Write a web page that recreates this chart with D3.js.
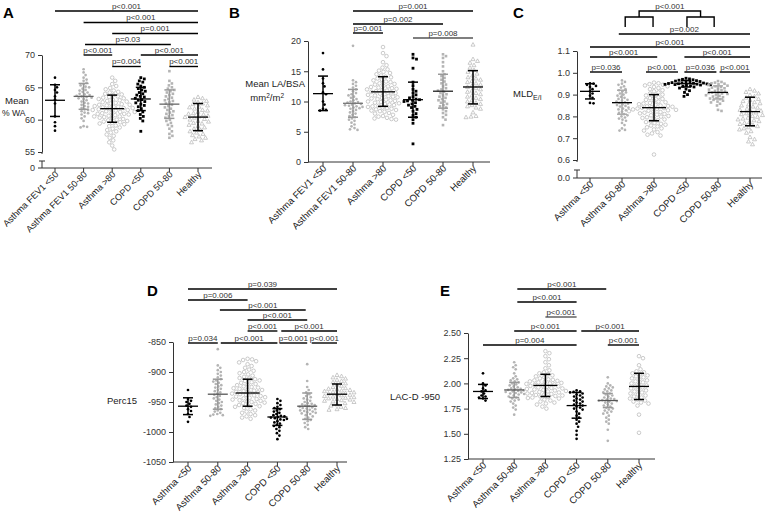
<!DOCTYPE html>
<html><head><meta charset="utf-8">
<script src="https://cdn.jsdelivr.net/npm/d3@7"></script>
<style>body{margin:0;background:#fff} text{font-family:"Liberation Sans",Arial,sans-serif;fill:#222}</style>
</head><body><svg id="c" width="767" height="519"></svg>
<script>
// ---------- categories ----------
const groupsFEV = ["Asthma FEV1 <50","Asthma FEV1 50-80","Asthma >80","COPD <50","COPD 50-80","Healthy"];
const groupsShort = ["Asthma <50","Asthma 50-80","Asthma >80","COPD <50","COPD 50-80","Healthy"];

// ---------- Panel A: Mean % WA ----------
const wallArea = [
 [66.5,65.4,65.0,64.6,64.2,63.6,63.1,62.5,60.5,59.6,59.0,58.3],
 [67.8,67.3,66.9,66.5,66.2,66.0,65.7,65.5,65.3,65.1,65.0,64.8,64.6,64.5,64.3,64.2,64.0,63.9,63.8,63.7,63.6,63.5,63.4,63.3,63.2,63.0,62.8,62.6,62.5,62.3,62.1,62.0,61.8,61.6,61.5,61.3,61.1,61.0,60.8,60.5,60.2,59.8,59.0,58.9,58.8],
 [66.5,66.0,65.5,65.2,64.9,64.7,64.5,64.3,64.2,64.0,63.9,63.8,63.6,63.5,63.4,63.3,63.2,63.1,63.0,62.9,62.8,62.7,62.6,62.5,62.4,62.3,62.3,62.2,62.1,62.0,62.0,61.9,61.8,61.8,61.7,61.6,61.5,61.5,61.4,61.3,61.2,61.2,61.1,61.0,60.9,60.9,60.8,60.7,60.6,60.5,60.5,60.4,60.3,60.2,60.1,60.0,59.9,59.8,59.7,59.6,59.5,59.4,59.3,59.1,59.0,58.8,58.6,58.4,58.2,58.0,57.7,57.5,57.2,56.8,56.5,56.0,55.4],
 [66.5,66.3,66.0,65.8,65.5,65.2,65.0,64.8,64.6,64.4,64.2,64.0,63.8,63.6,63.5,63.3,63.1,63.0,62.8,62.6,62.4,62.2,62.0,61.7,61.4,61.2,60.8,60.5,60.2,59.8,58.2],
 [67.5,66.0,65.6,65.3,65.0,64.8,64.6,64.4,64.2,64.0,63.8,63.6,63.4,63.2,63.0,62.9,62.7,62.5,62.3,62.1,61.9,61.7,61.5,61.3,61.1,60.9,60.7,60.5,60.3,60.0,59.8,59.5,59.2,59.0,58.6,58.2,57.8,57.5,57.2],
 [63.5,63.3,63.1,62.9,62.7,62.5,62.4,62.2,62.0,61.9,61.7,61.5,61.4,61.2,61.0,60.9,60.8,60.6,60.5,60.4,60.3,60.1,60.0,59.8,59.7,59.5,59.4,59.2,59.0,58.8,58.6,58.4,58.2,58.0,57.8,57.6,57.4,57.2,57.0,56.8,56.5]
];
// [mean, SD low, SD high]
const wallAreaStats = [[63.0,60.5,65.4],[63.6,61.6,65.6],[61.7,59.6,63.8],[63.2,61.4,65.0],[62.4,60.2,64.6],[60.4,58.3,62.5]];
const wallAreaP = [["p<0.001",0,5,0],["p<0.001",1,5,1],["p=0.001",2,5,2],["p=0.03",1.05,4.05,3],["p<0.001",1,2,4],["p<0.001",3,5,4],["p=0.004",2,3,5],["p<0.001",4,5,5]];

// ---------- Panel B: Mean LA/BSA ----------
const laBsa = [
 [18.0,15.3,13.8,13.0,12.5,11.5,11.2,10.0,9.5,8.8,8.6,8.5],
 [19.2,13.5,13.2,12.9,12.6,12.3,12.0,11.7,11.4,11.2,11.0,10.8,10.6,10.4,10.2,10.0,9.9,9.8,9.7,9.6,9.5,9.4,9.3,9.2,9.1,9.0,8.9,8.8,8.6,8.4,8.2,8.0,7.8,7.6,7.4,7.2,7.0,6.8,6.5,6.2,5.9,5.6,5.4,5.3],
 [19.0,18.0,17.5,16.5,16.0,15.6,15.3,15.1,14.9,14.7,14.5,14.3,14.1,14.0,13.8,13.6,13.5,13.3,13.2,13.0,12.9,12.8,12.6,12.5,12.4,12.3,12.2,12.1,12.0,11.9,11.8,11.7,11.6,11.5,11.4,11.3,11.2,11.1,11.0,10.9,10.8,10.7,10.6,10.5,10.4,10.3,10.2,10.1,10.0,9.9,9.8,9.7,9.6,9.5,9.4,9.3,9.2,9.1,9.0,8.9,8.8,8.7,8.6,8.5,8.4,8.3,8.1,8.0,7.8,7.6,7.5,7.3,7.2,7.1,7.0],
 [17.8,17.2,17.0,15.5,13.2,12.6,12.0,11.7,11.4,11.1,10.8,10.6,10.4,10.3,10.2,10.1,10.0,9.8,9.6,9.4,9.2,9.0,8.7,8.4,8.0,7.7,7.4,7.0,6.4,3.0],
 [17.8,17.5,17.2,16.5,15.8,15.0,14.5,14.2,13.9,13.6,13.3,13.0,12.8,12.5,12.2,12.0,11.8,11.6,11.4,11.2,11.0,10.8,10.6,10.4,10.2,10.0,9.8,9.6,9.4,9.2,9.0,8.7,8.4,8.1,7.8,7.4,7.0,6.1],
 [19.4,17.0,16.7,16.4,16.0,15.6,15.2,14.9,14.6,14.3,14.0,13.8,13.6,13.4,13.2,13.0,12.8,12.6,12.4,12.2,12.0,11.8,11.6,11.4,11.2,11.0,10.8,10.6,10.4,10.2,10.0,9.8,9.6,9.4,9.2,9.0,8.8,8.2,7.6,7.5,7.4]
];
const laBsaStats = [[11.3,8.5,14.2],[9.7,7.4,12.0],[11.6,9.2,14.1],[10.3,7.4,13.2],[11.7,8.9,14.5],[12.4,9.6,15.1]];
const laBsaP = [["p=0.001",1,5,0],["p=0.002",1,4,1],["p=0.001",1,2,2],["p=0.008",3,5,3]];

// ---------- Panel C: MLD E/I ----------
const mld = [
 [0.952,0.950,0.945,0.940,0.935,0.925,0.915,0.905,0.895,0.885,0.862,0.860],
 [0.965,0.958,0.950,0.945,0.938,0.932,0.925,0.920,0.915,0.910,0.905,0.900,0.895,0.890,0.885,0.880,0.876,0.872,0.868,0.865,0.862,0.858,0.855,0.852,0.848,0.845,0.840,0.836,0.832,0.828,0.822,0.816,0.810,0.805,0.800,0.795,0.790,0.785,0.780,0.770,0.760,0.745,0.738,0.735],
 [0.955,0.952,0.948,0.945,0.942,0.938,0.935,0.930,0.925,0.920,0.915,0.910,0.905,0.900,0.896,0.892,0.888,0.884,0.880,0.876,0.872,0.868,0.865,0.862,0.859,0.856,0.853,0.850,0.848,0.846,0.844,0.842,0.840,0.838,0.836,0.834,0.832,0.830,0.828,0.826,0.824,0.822,0.820,0.817,0.814,0.811,0.808,0.805,0.802,0.799,0.796,0.793,0.790,0.786,0.782,0.778,0.774,0.770,0.766,0.762,0.758,0.754,0.750,0.745,0.740,0.735,0.728,0.722,0.716,0.712,0.625],
 [0.975,0.972,0.970,0.968,0.966,0.964,0.962,0.960,0.958,0.956,0.955,0.954,0.953,0.952,0.951,0.950,0.949,0.948,0.947,0.946,0.945,0.944,0.942,0.940,0.938,0.935,0.930,0.925,0.918,0.910,0.900,0.892],
 [0.962,0.958,0.955,0.952,0.950,0.947,0.944,0.941,0.938,0.935,0.932,0.929,0.926,0.923,0.920,0.917,0.914,0.911,0.909,0.907,0.905,0.903,0.900,0.897,0.894,0.891,0.888,0.885,0.882,0.879,0.876,0.872,0.868,0.864,0.858,0.850,0.830,0.825],
 [0.925,0.918,0.912,0.905,0.898,0.892,0.886,0.880,0.875,0.870,0.865,0.860,0.855,0.850,0.845,0.840,0.835,0.830,0.826,0.822,0.818,0.814,0.810,0.806,0.802,0.798,0.794,0.790,0.786,0.782,0.778,0.774,0.770,0.765,0.760,0.755,0.750,0.745,0.740,0.732,0.725,0.705,0.695,0.685,0.672]
];
const mldStats = [[0.915,0.880,0.950],[0.863,0.810,0.920],[0.840,0.780,0.900],[0.950,0.935,0.965],[0.910,0.880,0.940],[0.822,0.757,0.888]];
const mldP = [["p=0.002",0.9,5,0],["p<0.001",0,5,1],["p<0.001",0,2.1,2],["p<0.001",2.95,5,2],["p=0.036",0,1,3],["p<0.001",1.75,2.75,3],["p=0.036",2.95,3.95,3],["p<0.001",4.05,5,3]];
const mldTreeP = "p<0.001";

// ---------- Panel D: Perc15 ----------
const perc15 = [
 [-930,-945,-948,-950,-953,-956,-958,-962,-965,-970,-975,-983],
 [-862,-889,-893,-897,-900,-903,-906,-909,-912,-914,-916,-918,-920,-922,-924,-926,-928,-930,-932,-934,-936,-938,-940,-942,-944,-946,-948,-950,-952,-954,-956,-958,-960,-962,-964,-966,-968,-970,-971,-972,-973],
 [-878,-879,-880,-882,-884,-887,-890,-893,-896,-898,-900,-902,-904,-906,-908,-910,-911,-912,-914,-915,-917,-918,-920,-921,-922,-924,-925,-926,-927,-928,-929,-930,-931,-932,-933,-934,-935,-936,-937,-938,-939,-940,-941,-942,-943,-944,-945,-946,-947,-948,-949,-950,-951,-952,-953,-955,-956,-957,-958,-960,-962,-964,-966,-968,-970,-972,-974,-976,-978],
 [-945,-948,-952,-955,-958,-960,-962,-964,-966,-968,-970,-972,-973,-974,-975,-976,-977,-978,-979,-980,-982,-984,-986,-988,-990,-992,-995,-998,-1002,-1006,-1012],
 [-887,-915,-925,-930,-934,-937,-940,-942,-944,-946,-948,-950,-952,-953,-954,-955,-956,-957,-958,-959,-960,-961,-962,-963,-964,-965,-966,-967,-968,-969,-970,-972,-974,-976,-978,-980,-982,-985,-988,-992,-995],
 [-905,-907,-909,-911,-913,-915,-917,-919,-921,-923,-925,-927,-928,-929,-930,-931,-932,-933,-934,-935,-936,-937,-938,-939,-940,-941,-942,-943,-944,-945,-946,-947,-948,-949,-950,-952,-954,-956,-958,-960,-962,-963]
];
const perc15Stats = [[-957,-971,-943],[-937,-962,-912],[-935,-957,-912],[-975,-989,-961],[-957,-979,-935],[-937,-955,-920]];
const perc15P = [["p=0.039",0,5,0],["p=0.006",0,2,1],["p<0.001",1.07,3.95,2],["p<0.001",2,4,3],["p<0.001",2,3,4],["p<0.001",3.13,5,4],["p=0.034",0,1,5],["p<0.001",1.1,3,5],["p=0.001",3.07,4,5],["p<0.001",4.15,5,5]];

// ---------- Panel E: LAC-D -950 ----------
const lacd = [
 [2.10,2.00,1.98,1.95,1.93,1.92,1.90,1.88,1.87,1.86,1.85,1.83],
 [2.21,2.18,2.16,2.14,2.10,2.07,2.05,2.04,2.03,2.02,2.01,2.00,1.99,1.98,1.97,1.96,1.95,1.945,1.94,1.935,1.93,1.925,1.92,1.915,1.91,1.905,1.90,1.895,1.89,1.88,1.87,1.86,1.85,1.84,1.83,1.82,1.80,1.78,1.76,1.74,1.69],
 [2.32,2.30,2.27,2.24,2.21,2.18,2.15,2.13,2.11,2.10,2.09,2.08,2.07,2.06,2.05,2.04,2.035,2.03,2.025,2.02,2.015,2.01,2.005,2.00,1.995,1.99,1.985,1.98,1.975,1.97,1.965,1.96,1.955,1.95,1.945,1.94,1.935,1.93,1.925,1.92,1.915,1.91,1.905,1.90,1.895,1.89,1.885,1.88,1.875,1.87,1.865,1.86,1.855,1.85,1.84,1.83,1.82,1.81,1.80,1.79,1.77,1.75],
 [1.93,1.92,1.915,1.91,1.90,1.89,1.88,1.87,1.86,1.85,1.84,1.83,1.82,1.81,1.80,1.79,1.78,1.77,1.76,1.75,1.74,1.72,1.70,1.68,1.66,1.64,1.62,1.60,1.57,1.53,1.49,1.45],
 [2.06,2.00,1.98,1.97,1.96,1.95,1.94,1.93,1.92,1.91,1.90,1.89,1.88,1.87,1.86,1.85,1.845,1.84,1.835,1.83,1.825,1.82,1.81,1.80,1.79,1.78,1.77,1.76,1.75,1.74,1.73,1.72,1.71,1.70,1.68,1.66,1.64,1.62,1.60,1.54,1.43],
 [2.27,2.25,2.18,2.14,2.12,2.11,2.10,2.09,2.08,2.07,2.06,2.05,2.04,2.03,2.02,2.01,2.00,1.99,1.98,1.97,1.96,1.95,1.94,1.93,1.92,1.91,1.90,1.89,1.88,1.87,1.86,1.85,1.84,1.83,1.82,1.81,1.80,1.78,1.69,1.51]
];
const lacdStats = [[1.92,1.85,1.99],[1.935,1.86,2.01],[1.98,1.87,2.09],[1.78,1.655,1.91],[1.83,1.76,1.90],[1.97,1.84,2.10]];
const lacdP = [["p<0.001",1.1,3.95,0],["p<0.001",1.1,3,1],["p<0.001",2,3,2],["p<0.001",1,3,3],["p<0.001",3.15,5,3],["p<0.001",4,5,4],["p=0.004",0,3,4]];

// ---------- layout ----------
const GRAY = "#b4b4b4";
const hy = d => String(d);
const panels = [
 {letter:"A", lx:3, ly:18, ax:42, xEnd:212, cx0:55, step:28.6, dom:[55,70], rng:[152,55], ticks:[55,60,65,70], fmt:hy, baseY:168, brk:{y:161,label:"0"}, catSize:9.1,
  cats:groupsFEV, data:wallArea, stats:wallAreaStats, pv:wallAreaP, levels:[11,22.5,33.5,44.5,55,66.5],
  marks:["dot","gdot","ring","sq","gsq","tri"], sdc:["#000","#999","#000","#000","#999","#000"], mc:["#000","#666","#000","#000","#666","#000"]},
 {letter:"B", lx:229, ly:18, ax:308, xEnd:490, cx0:323, step:30, dom:[0,20], rng:[162,41], ticks:[0,5,10,15,20], fmt:hy, baseY:162,
  cats:groupsFEV, data:laBsa, stats:laBsaStats, pv:laBsaP, levels:[11,24,33,38], grayLines:[3],
  marks:["dot","gdot","ring","sq","gsq","tri"], sdc:["#000","#999","#000","#000","#999","#000"], mc:["#000","#777","#000","#000","#222","#000"]},
 {letter:"C", lx:513, ly:18, ax:577, xEnd:762, cx0:590, step:32, dom:[0.6,1.1], rng:[160,51], ticks:[0.6,0.7,0.8,0.9,1.0,1.1], fmt:d3.format(".1f"), baseY:178, brk:{y:170,label:"0.0"},
  cats:groupsShort, data:mld, stats:mldStats, pv:mldP, levels:[34,47,57,72],
  marks:["dot","gdot","ring","sq","gsq","tri"], sdc:["#000","#aaa","#000","#000","#aaa","#000"], mc:["#000","#000","#000","#000","#000","#000"]},
 {letter:"D", lx:147, ly:296, ax:173, xEnd:347, cx0:188, step:29.8, dom:[-1050,-850], rng:[462,342], ticks:[-1050,-1000,-950,-900,-850], fmt:hy, baseY:462,
  cats:groupsShort, data:perc15, stats:perc15Stats, pv:perc15P, levels:[289,300,310,320,331,343],
  marks:["dot","gdot","ring","dot","gdot","tri"], sdc:["#000","#999","#000","#000","#999","#000"], mc:["#000","#555","#000","#000","#555","#000"]},
 {letter:"E", lx:440, ly:296, ax:468, xEnd:655, cx0:483, step:31.2, dom:[1.25,2.5], rng:[459,333], ticks:[1.25,1.5,1.75,2.0,2.25,2.5], fmt:d3.format(".2f"), baseY:459,
  cats:groupsShort, data:lacd, stats:lacdStats, pv:lacdP, levels:[289,302,317,331,345], grayLines:[2],
  marks:["dot","gdot","ring","dot","gdot","ring"], sdc:["#000","#999","#000","#000","#999","#000"], mc:["#000","#555","#000","#000","#555","#000"]}
];

const svg = d3.select("#c");
const markDiam = {dot:3.2, gdot:3.2, ring:4.3, sq:3.5, gsq:3.3, tri:4.6};

function swarm(ys, d){
  const idx = ys.map((y,i)=>i).sort((a,b)=>ys[a]-ys[b]);
  const placed = [], off = new Array(ys.length);
  for (const i of idx){
    const y = ys[i];
    const near = placed.filter(p=>Math.abs(p.y-y)<d);
    let best = 0;
    for (let k=0;k<400;k++){
      const c = (k%2 ? 1 : -1) * Math.ceil(k/2) * 0.5;
      if (near.every(p=>(p.x-c)*(p.x-c)+(p.y-y)*(p.y-y) >= d*d)){ best=c; break; }
    }
    off[i]=best; placed.push({x:best,y});
  }
  return off;
}

function drawMark(g, type, x, y){
  if (type==="dot"||type==="gdot"){
    g.append("circle").attr("cx",x).attr("cy",y).attr("r",1.35).attr("fill",type==="dot"?"#000":GRAY);
  } else if (type==="ring"){
    g.append("circle").attr("cx",x).attr("cy",y).attr("r",1.8).attr("fill","#fff").attr("stroke",GRAY).attr("stroke-width",0.7);
  } else if (type==="sq"||type==="gsq"){
    const s = type==="sq"?2.8:2.6;
    g.append("rect").attr("x",x-s/2).attr("y",y-s/2).attr("width",s).attr("height",s).attr("fill",type==="sq"?"#000":GRAY);
  } else if (type==="tri"){
    g.append("path").attr("d",`M${x},${y-2.1}L${x+2},${y+1.5}L${x-2},${y+1.5}Z`).attr("fill","#fff").attr("stroke",GRAY).attr("stroke-width",0.7);
  }
}

panels.forEach(P=>{
  const g = svg.append("g");
  const y = d3.scaleLinear().domain(P.dom).range(P.rng);
  const xs = d3.scaleLinear().domain([0,1]).range([P.cx0, P.cx0+P.step]);
  g.append("text").attr("x",P.lx).attr("y",P.ly).attr("font-size",15).attr("font-weight","bold").style("fill","#000").text(P.letter);
  const ya = g.append("g").attr("transform",`translate(${P.ax},0)`)
    .call(d3.axisLeft(y).tickValues(P.ticks).tickFormat(P.fmt).tickSize(4).tickSizeOuter(0));
  ya.select(".domain").attr("stroke","#333");
  ya.selectAll(".tick line").attr("stroke","#333");
  ya.selectAll(".tick text").attr("font-size",9).attr("font-family","Liberation Sans, Arial").style("fill","#333");
  if (P.brk){
    g.append("line").attr("x1",P.ax).attr("x2",P.ax).attr("y1",P.rng[0]).attr("y2",P.rng[0]+2).attr("stroke","#333");
    g.append("line").attr("x1",P.ax-3).attr("x2",P.ax+3).attr("y1",P.brk.y).attr("y2",P.brk.y).attr("stroke","#333");
    g.append("line").attr("x1",P.ax).attr("x2",P.ax).attr("y1",P.brk.y).attr("y2",P.baseY).attr("stroke","#333");
    g.append("line").attr("x1",P.ax-4).attr("x2",P.ax).attr("y1",P.baseY).attr("y2",P.baseY).attr("stroke","#333");
    g.append("text").attr("x",P.ax-7).attr("y",P.baseY).attr("dy","0.32em").attr("text-anchor","end").attr("font-size",9).style("fill","#333").text(P.brk.label);
  }
  g.append("line").attr("x1",P.ax).attr("x2",P.xEnd).attr("y1",P.baseY).attr("y2",P.baseY).attr("stroke","#333");
  P.cats.forEach((c,i)=>{
    const cx = xs(i);
    g.append("line").attr("x1",cx).attr("x2",cx).attr("y1",P.baseY).attr("y2",P.baseY+4).attr("stroke","#333");
    g.append("text").attr("transform",`translate(${cx+4},${P.baseY+7}) rotate(-45)`).attr("text-anchor","end").attr("font-size",P.catSize||9.6).style("fill","#222").text(c);
  });
  P.data.forEach((vals,i)=>{
    const type = P.marks[i], d = markDiam[type];
    const ys = vals.map(v=>y(v));
    const off = swarm(ys, d);
    const gg = g.append("g");
    vals.forEach((v,j)=>drawMark(gg, type, xs(i)+off[j], ys[j]));
  });
  P.stats.forEach((s,i)=>{
    const cx = xs(i);
    const [m,lo,hi] = s;
    const sd = P.sdc[i];
    g.append("line").attr("x1",cx).attr("x2",cx).attr("y1",y(lo)).attr("y2",y(hi)).attr("stroke",sd).attr("stroke-width",1.5);
    [lo,hi].forEach(v=>g.append("line").attr("x1",cx-5).attr("x2",cx+5).attr("y1",y(v)).attr("y2",y(v)).attr("stroke",sd).attr("stroke-width",1.5));
    const hw = P.data[i].length>60 ? 12 : 10;
    g.append("line").attr("x1",cx-hw).attr("x2",cx+hw).attr("y1",y(m)).attr("y2",y(m)).attr("stroke",P.mc[i]).attr("stroke-width",1.3);
  });
  P.pv.forEach((b,k)=>{
    const [lab,a,c,lev] = b;
    const yy = P.levels[lev];
    const col = (P.grayLines||[]).includes(k) ? "#555" : "#000";
    g.append("line").attr("x1",xs(a)).attr("x2",xs(c)).attr("y1",yy).attr("y2",yy).attr("stroke",col).attr("stroke-width",1.4);
    g.append("text").attr("x",(xs(a)+xs(c))/2).attr("y",yy-2.5).attr("text-anchor","middle").attr("font-size",8).style("fill","#333").text(lab);
  });
  if (P.letter==="C"){
    const l1=xs(1.1), l2=xs(1.97), r1=xs(3.03), r2=xs(3.88);
    const lm=(l1+l2)/2, rm=(r1+r2)/2;
    const pth = `M${l1},27V17H${l2}V27 M${r1},27V17H${r2}V27 M${lm},17V11H${rm}V17`;
    g.append("path").attr("d",pth).attr("fill","none").attr("stroke","#000").attr("stroke-width",1.4);
    g.append("text").attr("x",(lm+rm)/2).attr("y",8.5).attr("text-anchor","middle").attr("font-size",8).style("fill","#333").text(mldTreeP);
  }
});

// y-axis titles
svg.append("text").attr("x",5).attr("y",104).attr("font-size",9.5).text("Mean");
svg.append("text").attr("x",2).attr("y",116).attr("font-size",8.6).text("% WA");
const tb = svg.append("text").attr("x",305).attr("y",87).attr("text-anchor","end").attr("font-size",9.5);
tb.text("Mean LA/BSA");
const tb2 = svg.append("text").attr("x",284).attr("y",101).attr("text-anchor","end").attr("font-size",9.5);
tb2.append("tspan").text("mm");
tb2.append("tspan").attr("dy",-3.5).attr("font-size",6.5).text("2");
tb2.append("tspan").attr("dy",3.5).text("/m");
tb2.append("tspan").attr("dy",-3.5).attr("font-size",6.5).text("2");
const tc = svg.append("text").attr("x",513).attr("y",97).attr("font-size",9.5);
tc.append("tspan").text("MLD");
tc.append("tspan").attr("dy",3).attr("font-size",7).text("E/I");
svg.append("text").attr("x",107).attr("y",404).attr("font-size",9.5).text("Perc15");
svg.append("text").attr("x",390).attr("y",400).attr("font-size",9.5).text("LAC-D -950");
</script></body></html>
